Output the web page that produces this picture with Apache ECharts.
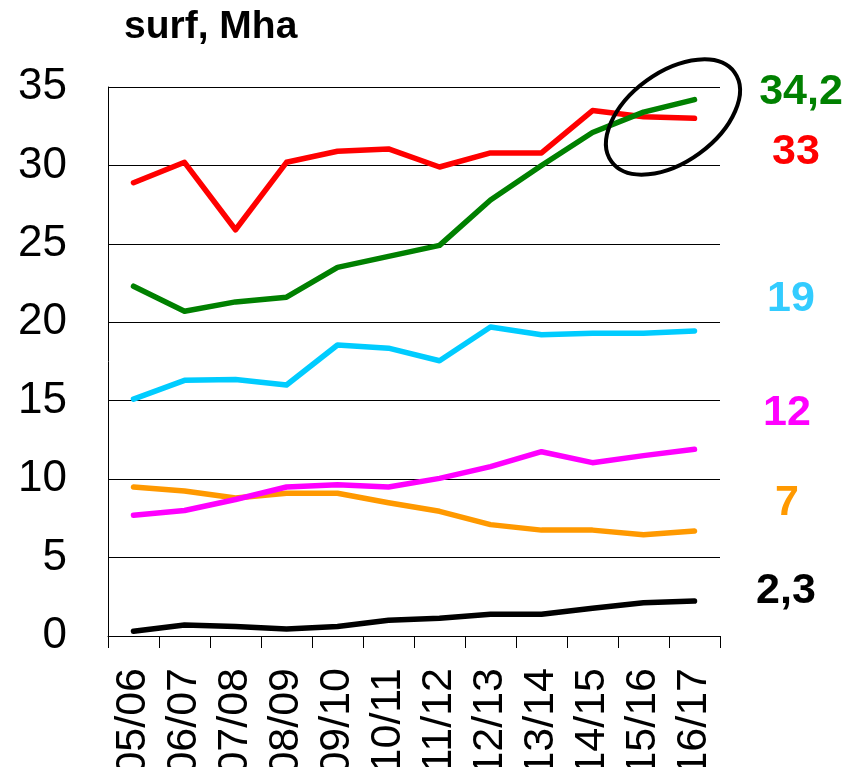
<!DOCTYPE html>
<html>
<head>
<meta charset="utf-8">
<script src="https://cdn.jsdelivr.net/npm/echarts@6/dist/echarts.min.js"></script>
<style>
  html, body { margin: 0; padding: 0; background: #fff; }
  #chart { width: 848px; height: 767px; }
</style>
</head>
<body>
<div id="chart"></div>
<script>
// campagnes
const seasons = ['05/06', '06/07', '07/08', '08/09', '09/10', '10/11', '11/12', '12/13', '13/14', '14/15', '15/16', '16/17'];

// surfaces, Mha
const redValues = [28.9, 30.2, 25.9, 30.2, 30.9, 31.05, 29.9, 30.8, 30.8, 33.5, 33.1, 33.0];
const greenValues = [22.3, 20.7, 21.3, 21.6, 23.5, 24.2, 24.9, 27.8, 30.0, 32.1, 33.4, 34.2];
const cyanValues = [15.1, 16.3, 16.35, 16.0, 18.55, 18.35, 17.55, 19.7, 19.2, 19.3, 19.3, 19.45];
const magentaValues = [7.7, 8.0, 8.7, 9.5, 9.65, 9.5, 10.05, 10.8, 11.75, 11.05, 11.5, 11.9];
const orangeValues = [9.5, 9.25, 8.8, 9.1, 9.1, 8.5, 7.95, 7.1, 6.75, 6.75, 6.45, 6.7];
const blackValues = [0.3, 0.7, 0.6, 0.45, 0.6, 1.0, 1.13, 1.38, 1.38, 1.77, 2.12, 2.23];

// étiquettes de fin de courbe
const endLabels = ['34,2', '33', '19', '12', '7', '2,3'];

const FONT = 'Liberation Sans, Arial, sans-serif';

const chart = echarts.init(document.getElementById('chart'), null, { renderer: 'canvas' });

function lineSeries(name, data, color) {
  return {
    name: name,
    type: 'line',
    data: data,
    symbol: 'none',
    smooth: false,
    lineStyle: { color: color, width: 5.5, cap: 'round', join: 'round' },
    itemStyle: { color: color },
    emphasis: { disabled: true }
  };
}

function endText(text, x, y, color) {
  return {
    type: 'text',
    x: x,
    y: y,
    style: {
      text: text,
      fill: color,
      font: 'bold 43px ' + FONT,
      textAlign: 'center',
      textVerticalAlign: 'middle'
    }
  };
}

const option = {
  animation: false,
  backgroundColor: '#fff',
  grid: { left: 108, right: 128, top: 87, bottom: 131, containLabel: false, outerBoundsMode: 'none' },
  xAxis: {
    type: 'category',
    data: seasons,
    boundaryGap: true,
    axisLine: { show: true, lineStyle: { color: '#000', width: 1 } },
    axisTick: { show: true, length: 12, alignWithLabel: false, lineStyle: { color: '#000', width: 1 } },
    axisLabel: {
      rotate: 90,
      margin: 32,
      fontSize: 43,
      color: '#000',
      fontFamily: FONT,
      interval: 0
    },
    splitLine: { show: false }
  },
  yAxis: {
    type: 'value',
    min: 0,
    max: 35,
    interval: 5,
    axisLine: { show: true, lineStyle: { color: '#000', width: 1 } },
    axisTick: { show: false },
    axisLabel: {
      margin: 41,
      fontSize: 44,
      color: '#000',
      fontFamily: FONT,
      verticalAlign: 'middle',
      padding: [10, 0, 0, 0]
    },
    splitLine: { show: true, lineStyle: { color: '#000', width: 1 } }
  },
  series: [
    lineSeries('rouge', redValues, '#ff0000'),
    lineSeries('cyan', cyanValues, '#00ccff'),
    lineSeries('orange', orangeValues, '#ff9900'),
    lineSeries('magenta', magentaValues, '#ff00ff'),
    lineSeries('noir', blackValues, '#000000'),
    lineSeries('vert', greenValues, '#008000')
  ],
  graphic: [
    {
      type: 'text',
      x: 124,
      y: 27,
      style: {
        text: 'surf, Mha',
        fill: '#000',
        font: 'bold 39px ' + FONT,
        textAlign: 'left',
        textVerticalAlign: 'middle'
      }
    },
    {
      type: 'ellipse',
      x: 673,
      y: 117,
      rotation: 36 * Math.PI / 180,
      shape: { cx: 0, cy: 0, rx: 76, ry: 45 },
      style: { fill: 'none', stroke: '#000', lineWidth: 4 },
      z: 100
    },
    endText(endLabels[0], 801, 92, '#008000'),
    endText(endLabels[1], 796, 152, '#ff0000'),
    endText(endLabels[2], 791, 299, '#33ccff'),
    endText(endLabels[3], 787, 413, '#ff00ff'),
    endText(endLabels[4], 787, 503, '#ff9900'),
    endText(endLabels[5], 786, 591, '#000000')
  ]
};

chart.setOption(option);
</script>
</body>
</html>
